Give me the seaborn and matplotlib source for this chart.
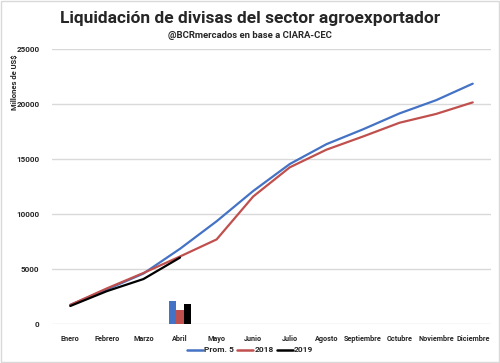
import seaborn as sns
import pandas as pd
import numpy as np
import matplotlib.pyplot as plt
from matplotlib.lines import Line2D
from matplotlib.patches import Rectangle

# Data (millones de US$, acumulado)
meses = ["Enero", "Febrero", "Marzo", "Abril", "Mayo", "Junio", "Julio",
         "Agosto", "Septiembre", "Octubre", "Noviembre", "Diciembre"]
prom5 = [1750, 3150, 4600, 6850, 9350, 12100, 14550, 16350, 17700, 19150, 20350, 21850]
y2018 = [1750, 3250, 4650, 6150, 7700, 11600, 14250, 15850, 17050, 18300, 19100, 20150]
y2019 = [1650, 3000, 4100, 6050]

# monthly values shown as bars in April
bar_series = ["Prom. 5", "2018", "2019"]
bar_values = [2100, 1330, 1820]

colores = {"Prom. 5": "#4472C4", "2018": "#C0504D", "2019": "#000000"}

lines = pd.concat([
    pd.DataFrame({"x": range(len(prom5)), "valor": prom5, "serie": "Prom. 5"}),
    pd.DataFrame({"x": range(len(y2018)), "valor": y2018, "serie": "2018"}),
    pd.DataFrame({"x": range(len(y2019)), "valor": y2019, "serie": "2019"}),
])
bars = pd.DataFrame({"mes": "Abril", "serie": bar_series, "valor": bar_values})

sns.set_style("white")
plt.rcParams["font.family"] = ["Roboto", "DejaVu Sans"]

fig = plt.figure(figsize=(5, 3.63), dpi=100)
ax = fig.add_axes([0.104, 0.107, 0.878, 0.758])

sns.barplot(data=bars, x="mes", y="valor", hue="serie", order=meses,
            hue_order=bar_series, palette=colores, width=0.6, gap=0,
            saturation=1, linewidth=0, legend=False, ax=ax)
sns.lineplot(data=lines, x="x", y="valor", hue="serie", palette=colores,
             hue_order=bar_series, linewidth=1.6, legend=False, ax=ax)

ax.set_xlim(-0.5, 11.5)
ax.set_ylim(0, 25000)
ax.set_yticks(range(0, 25001, 5000))
ax.set_xticks(range(len(meses)))
ax.set_xticklabels(meses)
ax.grid(axis="y", color="#D9D9D9", linewidth=1)
ax.set_axisbelow(True)
for s in ax.spines.values():
    s.set_visible(False)
ax.tick_params(axis="x", length=0, labelsize=5.2, pad=8)
ax.tick_params(axis="y", length=0, labelsize=5.8, pad=9)
for t in ax.get_xticklabels() + ax.get_yticklabels():
    t.set_fontweight("bold")
ax.set_xlabel("")
ax.set_ylabel("")

fig.text(0.5, 0.95, "Liquidación de divisas del sector agroexportador",
         ha="center", va="center", fontsize=12.5, fontweight="bold")
fig.text(0.5, 0.903, "@BCRmercados en base a CIARA-CEC",
         ha="center", va="center", fontsize=6.8, fontweight="bold")
fig.text(0.03, 0.85, "Millones de US$", rotation=90, ha="center", va="top",
         fontsize=5.5, fontweight="bold")

handles = [Line2D([], [], color=colores[s], linewidth=1.8) for s in bar_series]
fig.legend(handles, bar_series, loc="center", bbox_to_anchor=(0.5, 0.036),
           ncol=3, frameon=False, handlelength=1.9,
           columnspacing=0.4, handletextpad=0.15,
           prop={"weight": "bold", "size": 6})

fig.patches.append(Rectangle((0.002, 0.002), 0.996, 0.996, transform=fig.transFigure,
                             fill=False, edgecolor="#D9D9D9", linewidth=1))

fig.savefig("out.png", dpi=100)
